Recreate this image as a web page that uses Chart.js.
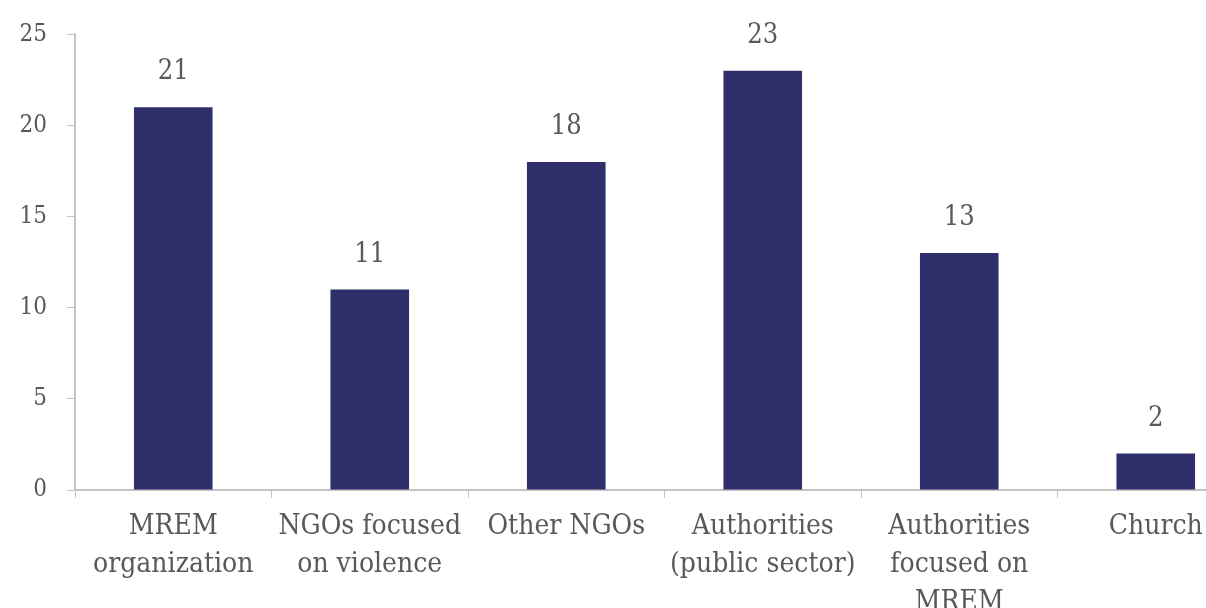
<!DOCTYPE html>
<html>
<head>
<meta charset="utf-8">
<script src="https://cdn.jsdelivr.net/npm/chart.js@4/dist/chart.umd.min.js"></script>
<style>
  html, body { margin: 0; padding: 0; background: #fff; overflow: hidden; }
  #wrap { width: 1256px; height: 608px; }
</style>
</head>
<body>
<div id="wrap"><canvas id="chart" width="1256" height="608"></canvas></div>
<script>
const categories = [
  ['MREM', 'organization'],
  ['NGOs focused', 'on violence'],
  ['Other NGOs'],
  ['Authorities', '(public sector)'],
  ['Authorities', 'focused on', 'MREM'],
  ['Church']
];
const counts = [21, 11, 18, 23, 13, 2];
const yTicks = [0, 5, 10, 15, 20, 25];

const serif = "'DejaVu Serif Condensed', 'DejaVu Serif', serif";
const textGray = '#595959';
const axisGray = '#c4c4c4';

// value labels above each bar, placed from the bar elements
const valueLabels = {
  id: 'valueLabels',
  afterDatasetsDraw(chart) {
    const ctx = chart.ctx;
    const meta = chart.getDatasetMeta(0);
    ctx.save();
    ctx.font = '27px ' + serif;
    ctx.fillStyle = textGray;
    ctx.textAlign = 'center';
    ctx.textBaseline = 'middle';
    meta.data.forEach((bar, i) => {
      ctx.fillText(String(counts[i]), bar.x, bar.y - 35);
    });
    ctx.restore();
  }
};

new Chart(document.getElementById('chart').getContext('2d'), {
  type: 'bar',
  data: {
    labels: categories,
    datasets: [{
      data: counts,
      backgroundColor: '#2e2f6b',
      borderWidth: 0,
      barPercentage: 0.4,
      categoryPercentage: 1.0
    }]
  },
  options: {
    responsive: false,
    animation: false,
    layout: { padding: { top: 32, right: 2, left: 0, bottom: 0 } },
    plugins: {
      legend: { display: false },
      tooltip: { enabled: false }
    },
    scales: {
      x: {
        afterFit: (scale) => { scale.height = 118; },
        grid: {
          offset: true,
          drawOnChartArea: false,
          drawTicks: true,
          tickLength: 8,
          color: axisGray
        },
        border: { display: true, color: axisGray, width: 2 },
        ticks: {
          color: textGray,
          font: { family: serif, size: 28, lineHeight: 1.36 },
          padding: 10,
          maxRotation: 0,
          autoSkip: false
        }
      },
      y: {
        min: 0,
        max: 25,
        afterFit: (scale) => { scale.width = 75; },
        afterBuildTicks: (scale) => { scale.ticks = yTicks.map((v) => ({ value: v })); },
        grid: {
          drawOnChartArea: false,
          drawTicks: true,
          tickLength: 8,
          color: axisGray
        },
        border: { display: true, color: axisGray, width: 2 },
        ticks: {
          color: textGray,
          font: { family: serif, size: 24 },
          padding: 20
        }
      }
    }
  },
  plugins: [valueLabels]
});
</script>
</body>
</html>
